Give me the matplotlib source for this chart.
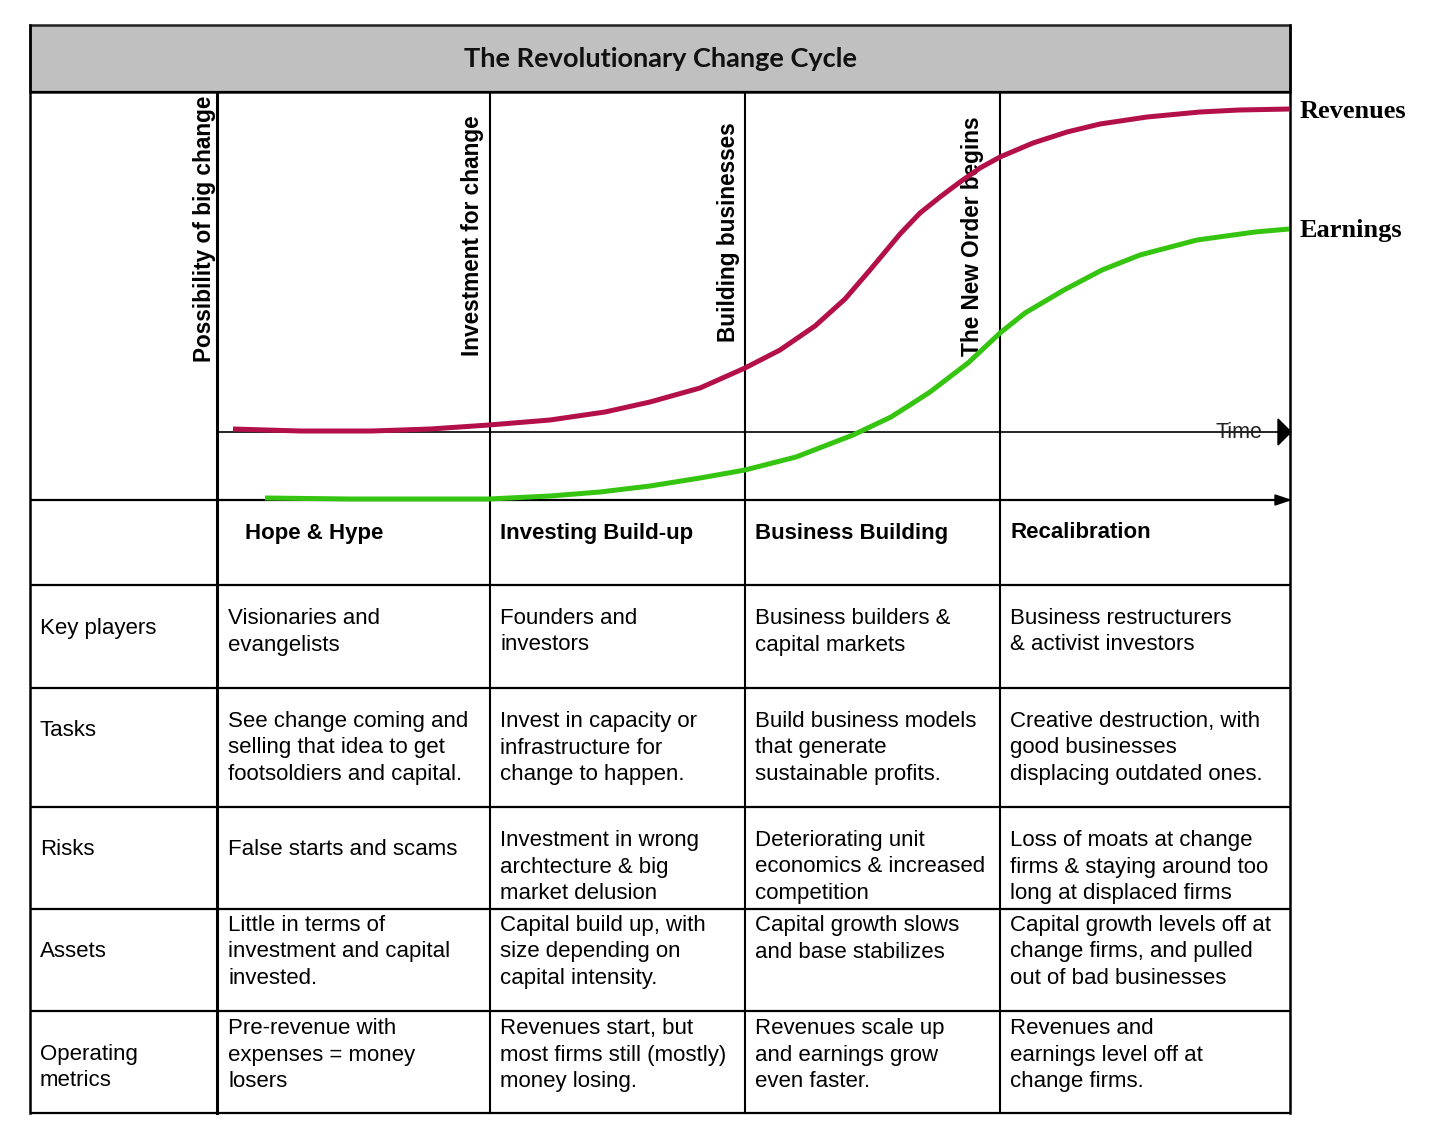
import matplotlib.pyplot as plt
from matplotlib.patches import Rectangle, Polygon

# ---- data ----
title = 'The Revolutionary Change Cycle'
milestones = ['Possibility of big change', 'Investment for change',
              'Building businesses', 'The New Order begins']
phases = ['Hope & Hype', 'Investing Build-up', 'Business Building', 'Recalibration']
row_labels = ['Key players', 'Tasks', 'Risks', 'Assets', 'Operating\nmetrics']
cells = [
    ['Visionaries and\nevangelists', 'Founders and\ninvestors',
     'Business builders &\ncapital markets', 'Business restructurers\n& activist investors'],
    ['See change coming and\nselling that idea to get\nfootsoldiers and capital.',
     'Invest in capacity or\ninfrastructure for\nchange to happen.',
     'Build business models\nthat generate\nsustainable profits.',
     'Creative destruction, with\ngood businesses\ndisplacing outdated ones.'],
    ['False starts and scams',
     'Investment in wrong\narchtecture & big\nmarket delusion',
     'Deteriorating unit\neconomics & increased\ncompetition',
     'Loss of moats at change\nfirms & staying around too\nlong at displaced firms'],
    ['Little in terms of\ninvestment and capital\ninvested.',
     'Capital build up, with\nsize depending on\ncapital intensity.',
     'Capital growth slows\nand base stabilizes',
     'Capital growth levels off at\nchange firms, and pulled\nout of bad businesses'],
    ['Pre-revenue with\nexpenses = money\nlosers',
     'Revenues start, but\nmost firms still (mostly)\nmoney losing.',
     'Revenues scale up\nand earnings grow\neven faster.',
     'Revenues and\nearnings level off at\nchange firms.'],
]

# curves: time vs level
rev_t = [16, 83, 155, 213, 272, 333, 388, 433, 483, 528, 563, 598, 628, 653, 668,
         683, 703, 723, 743, 763, 783, 816, 850, 883, 930, 983, 1022, 1073]
rev_v = [71, 69, 69, 71, 75, 80, 88, 98, 112, 132, 150, 174, 201, 230, 248,
         266, 287, 303, 318, 332, 343, 357, 368, 376, 383, 388, 390, 391]
earn_t = [48, 133, 213, 272, 333, 383, 433, 483, 528, 579, 636, 674, 696, 713,
          751, 783, 808, 847, 885, 923, 980, 1038, 1072]
earn_v = [2, 1, 1, 1, 4, 8, 14, 22, 30, 43, 65, 83, 97, 108,
          137, 167, 187, 210, 230, 245, 260, 268, 271]

W, H = 1456, 1135
fig = plt.figure(figsize=(W / 100, H / 100), dpi=100)
ax = fig.add_axes([0, 0, 1, 1])
ax.set_xlim(0, W)
ax.set_ylim(H, 0)
ax.axis('off')

L, R, TOP, BOT = 30, 1290, 25, 1113
col_x = [217, 490, 745, 1000]
row_y = [92, 500, 585, 688, 807, 909, 1011, 1113]

# title bar
ax.add_patch(Rectangle((L, TOP), R - L, 92 - TOP, facecolor='#c0c0c0', edgecolor='#222222', lw=1.8))
ax.text((L + R) / 2, 59, title, ha='center', va='center', fontsize=19.5,
        fontweight='bold', family='Lato', color='#111111')

# grid
for y in row_y:
    ax.plot([L, R], [y, y], color='black', lw=1.6, solid_capstyle='butt')
ax.plot([L, L], [TOP, BOT], color='black', lw=1.8)
ax.plot([R, R], [TOP, BOT], color='black', lw=1.8)
for i, x in enumerate(col_x):
    ax.plot([x, x], [92, BOT], color='black', lw=2.2 if i == 0 else 1.5)

# time axis + arrows
ax.plot([217, 1280], [432, 432], color='black', lw=1.2)
ax.add_patch(Polygon([(1278, 419), (1291, 432), (1278, 445)], closed=True, color='black'))
ax.add_patch(Polygon([(1275, 495), (1290, 500), (1275, 505)], closed=True, color='black'))
ax.text(1239, 433, 'Time', ha='center', va='center', fontsize=15.5, color='#222222',
        family='Liberation Sans')

# milestone labels
ms_x = [205, 472, 729, 972]
ms_y = [229, 236, 232, 236]
for x, y, s in zip(ms_x, ms_y, milestones):
    ax.text(x, y, s, rotation=90, ha='center', va='center', fontsize=16.3,
            fontweight='bold', family='Liberation Sans')

# phase headers
ph_x = [245, 500, 755, 1010]
for x, s in zip(ph_x, phases):
    ax.text(x, 533, s, ha='left', va='center', fontsize=16, fontweight='bold',
            family='Liberation Sans')

# row labels and cells
lab_y = [628.5, 730.5, 849.5, 951.5, 1054.5]
first_y = [618.5, 721.5, 840.5, 925.5, 1028.5]
cell_x = [228, 500, 755, 1010]
gap = 26.5
for r in range(len(row_labels)):
    for k, line in enumerate(row_labels[r].split('\n')):
        ax.text(40, lab_y[r] + k * gap, line, ha='left', va='center', fontsize=16,
                family='Liberation Sans')
    for c in range(4):
        lines = cells[r][c].split('\n')
        y0 = first_y[r] if len(lines) > 1 else lab_y[r]
        for k, line in enumerate(lines):
            ax.text(cell_x[c], y0 + k * gap, line, ha='left', va='center', fontsize=16,
                    family='Liberation Sans')

# curves
cax = fig.add_axes([217 / W, (H - 500) / H, 1073 / W, 408 / H])
cax.set_xlim(0, 1073)
cax.set_ylim(0, 408)
cax.axis('off')
cax.plot(rev_t, rev_v, color='#b3104a', lw=3.6, clip_on=False,
         solid_capstyle='butt', solid_joinstyle='round')
cax.plot(earn_t, earn_v, color='#35c40f', lw=3.6, clip_on=False,
         solid_capstyle='butt', solid_joinstyle='round')

ax.text(1300, 112, 'Revenues', ha='left', va='center', fontsize=19, fontweight='bold',
        family='Liberation Serif')
ax.text(1300, 231, 'Earnings', ha='left', va='center', fontsize=19, fontweight='bold',
        family='Liberation Serif')

fig.savefig('out.png', dpi=100)
